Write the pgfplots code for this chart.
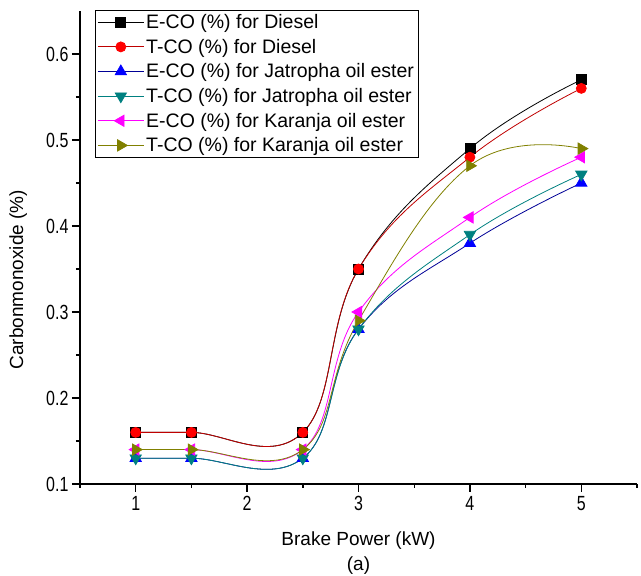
\documentclass[border=0pt]{standalone}
\usepackage{pgfplots}
\pgfplotsset{compat=1.18}
\usepackage{fontspec}
\setmainfont{Liberation Sans}
\newfontfamily\narrowfont[FakeStretch=0.78]{Liberation Sans}

\definecolor{olivec}{RGB}{128,128,0}
\definecolor{tealc}{RGB}{0,128,128}
\definecolor{navyc}{RGB}{0,0,150}
\definecolor{bluec}{RGB}{0,0,255}
\definecolor{redc}{RGB}{255,0,0}
\definecolor{magc}{RGB}{255,0,255}

\begin{document}
\begin{tikzpicture}
\begin{axis}[
  name=ax,
  scale only axis, width=557pt, height=473pt,
  xmin=0.5, xmax=5.5, ymin=0.1, ymax=0.65,
  axis x line*=bottom, axis y line*=left,
  axis line style={line width=1.6pt, -},
  tick align=outside,
  xtick={1,2,3,4,5}, minor xtick={0.5,1.5,2.5,3.5,4.5,5.5},
  ytick={0.1,0.2,0.3,0.4,0.5,0.6}, minor ytick={0.15,0.25,0.35,0.45,0.55},
  major tick length=8pt, minor tick length=4pt,
  every tick/.style={line width=1.4pt, black},
  /pgf/number format/assume math mode=true,
  ticklabel style={font=\narrowfont\fontsize{20.5}{20.5}\selectfont},
  yticklabel style={/pgf/number format/.cd, fixed, fixed zerofill, precision=1},
  xticklabel style={yshift=-1pt},
  xlabel={Brake Power (kW)\\(a)},
  xlabel style={at={(axis description cs:0.5,-0.147)}, anchor=center, align=center,
    font=\fontsize{19}{25}\selectfont},
  ylabel={Carbonmonoxide (\%)},
  ylabel style={at={(axis description cs:-0.111,0.432)}, anchor=center, rotate=0,
    font=\fontsize{19}{20}\selectfont},
  legend style={at={(axis description cs:0.027,1.002)}, anchor=north west,
    draw=black, line width=0.8pt, font=\fontsize{19.5}{21}\selectfont,
    inner xsep=2pt, inner ysep=2pt, row sep=5pt,
    nodes={inner sep=2pt}},
  legend cell align=left,
  legend image code/.code={%
    \draw[mark repeat=2, mark phase=2]
      plot coordinates {(0pt,0pt) (23pt,0pt) (46pt,0pt)};},
  every axis plot/.append style={line width=0.8pt, smooth, tension=0.7},
]
% Exhaust and theoretical CO, diesel
\addplot[black, mark=square*, mark size=5pt, mark options={solid, fill=black}]
  coordinates {(1,0.16) (1.5,0.16) (2.5,0.16) (3,0.35) (4,0.49) (5,0.57)};
\addlegendentry{E-CO (\%) for Diesel}
\addplot[redc!75!black, mark=*, mark size=5pt, mark options={solid, draw=redc, fill=redc}]
  coordinates {(1,0.16) (1.5,0.16) (2.5,0.16) (3,0.35) (4,0.48) (5,0.56)};
\addlegendentry{T-CO (\%) for Diesel}
% Jatropha oil ester
\addplot[navyc, mark=triangle*, mark size=6.5pt, mark options={solid, draw=bluec, fill=bluec}]
  coordinates {(1,0.13) (1.5,0.13) (2.5,0.13) (3,0.28) (4,0.38) (5,0.45)};
\addlegendentry{E-CO (\%) for Jatropha oil ester}
\addplot[tealc, mark=triangle*, mark size=6.5pt, mark options={solid, rotate=180, fill=tealc}]
  coordinates {(1,0.13) (1.5,0.13) (2.5,0.13) (3,0.28) (4,0.39) (5,0.46)};
\addlegendentry{T-CO (\%) for Jatropha oil ester}
% Karanja oil ester
\addplot[magc, mark=triangle*, mark size=6.5pt, mark options={solid, rotate=90, fill=magc}]
  coordinates {(1,0.14) (1.5,0.14) (2.5,0.14) (3,0.30) (4,0.41) (5,0.48)};
\addlegendentry{E-CO (\%) for Karanja oil ester}
\addplot[olivec, mark=triangle*, mark size=6.5pt, mark options={solid, rotate=-90, fill=olivec}]
  coordinates {(1,0.14) (1.5,0.14) (2.5,0.14) (3,0.29) (4,0.47) (5,0.49)};
\addlegendentry{T-CO (\%) for Karanja oil ester}
\end{axis}
\pgfresetboundingbox
\path[use as bounding box] ([xshift=-80pt,yshift=-92pt]ax.south west)
  rectangle ([xshift=4pt,yshift=11pt]ax.north east);
\end{tikzpicture}
\end{document}
